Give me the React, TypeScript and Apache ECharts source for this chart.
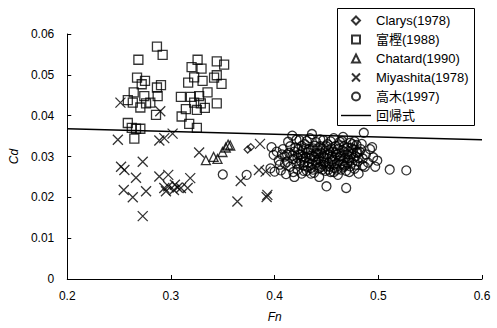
import React, { useEffect, useRef } from "react";
import * as echarts from "echarts";

const xTicks = [0.2, 0.3, 0.4, 0.5, 0.6];
const yTicks = [0, 0.01, 0.02, 0.03, 0.04, 0.05, 0.06];

const clarys: number[][] = [
  [0.377, 0.0323], [0.374, 0.0317],
];

const togashi: number[][] = [
  [0.2865, 0.0569], [0.292, 0.0549], [0.2686, 0.0537], [0.2673, 0.0493], [0.275, 0.0485],
  [0.2718, 0.0477], [0.2904, 0.0475], [0.2865, 0.0469], [0.2641, 0.0457], [0.2743, 0.0448],
  [0.2872, 0.0448], [0.2584, 0.0438], [0.2632, 0.0432], [0.276, 0.043], [0.2801, 0.0432],
  [0.2705, 0.042], [0.2856, 0.0402], [0.2584, 0.0382], [0.2622, 0.037], [0.2663, 0.0368],
  [0.2705, 0.0368], [0.2647, 0.0344],
  [0.3257, 0.0537], [0.3442, 0.0533], [0.3513, 0.0525], [0.3199, 0.0519], [0.3295, 0.0515],
  [0.3224, 0.0494], [0.3416, 0.0493], [0.3442, 0.0499], [0.3305, 0.0485], [0.3166, 0.0481],
  [0.3488, 0.0478], [0.3096, 0.0446], [0.3192, 0.0446], [0.3272, 0.0448], [0.3353, 0.0457],
  [0.3224, 0.0432], [0.3288, 0.043], [0.3442, 0.043], [0.3144, 0.0416], [0.325, 0.0414],
  [0.3327, 0.0419], [0.3103, 0.0398], [0.3176, 0.038], [0.325, 0.037],
];

const chatard: number[][] = [
  [0.3337, 0.0291], [0.3411, 0.0299], [0.3449, 0.0294], [0.3497, 0.0311],
  [0.3529, 0.0322], [0.3551, 0.0329], [0.3572, 0.0327],
];

const miyashita: number[][] = [
  [0.2488, 0.0341], [0.2513, 0.0432], [0.2519, 0.0275], [0.2551, 0.0267], [0.2728, 0.0287],
  [0.2663, 0.0248], [0.2545, 0.0218], [0.2632, 0.02], [0.276, 0.0215], [0.2728, 0.0154],
  [0.2888, 0.0339], [0.2936, 0.0345], [0.3016, 0.0356], [0.2897, 0.0411], [0.2888, 0.0251],
  [0.2974, 0.0255], [0.2936, 0.0223], [0.2974, 0.0227], [0.3038, 0.0231], [0.3064, 0.0224],
  [0.2952, 0.0215], [0.3029, 0.0218], [0.3096, 0.0223], [0.3186, 0.0247], [0.3161, 0.0223],
  [0.3272, 0.031], [0.3641, 0.019], [0.3673, 0.024], [0.3849, 0.0267], [0.3913, 0.0263],
  [0.393, 0.0206], [0.3923, 0.0201], [0.3859, 0.0331],
];

const takagi: number[][] = [
  [0.396, 0.0271], [0.397, 0.0323], [0.399, 0.0304], [0.4, 0.0263], [0.35, 0.0256], [0.373, 0.0255],
  [0.402, 0.0312], [0.404, 0.029], [0.405, 0.028], [0.406, 0.0266], [0.408, 0.0318], [0.41, 0.03],
  [0.411, 0.0257], [0.412, 0.0287], [0.413, 0.0336], [0.414, 0.0309], [0.415, 0.0275], [0.417, 0.0351],
  [0.418, 0.0294], [0.419, 0.025], [0.42, 0.0322], [0.421, 0.0283], [0.422, 0.0268], [0.423, 0.0305],
  [0.424, 0.034], [0.425, 0.029], [0.426, 0.0258], [0.427, 0.0315], [0.428, 0.0278], [0.429, 0.033],
  [0.43, 0.0298], [0.431, 0.0265], [0.432, 0.031], [0.433, 0.0285], [0.434, 0.0345], [0.435, 0.0272],
  [0.436, 0.0355], [0.436, 0.0302], [0.437, 0.032], [0.438, 0.026], [0.439, 0.0292], [0.44, 0.0335],
  [0.441, 0.0279], [0.442, 0.0307], [0.443, 0.025], [0.444, 0.0325], [0.445, 0.0288], [0.446, 0.0268],
  [0.447, 0.034], [0.448, 0.0298], [0.449, 0.0315], [0.45, 0.0227], [0.45, 0.0276], [0.451, 0.033],
  [0.452, 0.0285], [0.453, 0.0305], [0.454, 0.0262], [0.455, 0.032], [0.456, 0.0293], [0.457, 0.0345],
  [0.458, 0.0272], [0.459, 0.031], [0.46, 0.0283], [0.461, 0.0255], [0.462, 0.0327], [0.463, 0.03],
  [0.464, 0.0268], [0.465, 0.0338], [0.466, 0.029], [0.467, 0.0312], [0.468, 0.0278], [0.469, 0.0223],
  [0.47, 0.0322], [0.471, 0.0296], [0.472, 0.0262], [0.473, 0.0334], [0.474, 0.0306], [0.475, 0.0285],
  [0.476, 0.0318], [0.477, 0.027], [0.478, 0.03], [0.479, 0.0328], [0.48, 0.0288], [0.481, 0.0258],
  [0.482, 0.0312], [0.484, 0.0331], [0.485, 0.0295], [0.486, 0.0358], [0.487, 0.0275], [0.488, 0.0305],
  [0.49, 0.0285], [0.492, 0.0318], [0.494, 0.0323], [0.495, 0.0298], [0.497, 0.0275], [0.499, 0.029],
  [0.511, 0.0268], [0.527, 0.0266],
  [0.415, 0.0325], [0.418, 0.0262], [0.421, 0.0341], [0.425, 0.0305], [0.428, 0.0295], [0.432, 0.0275],
  [0.435, 0.0315], [0.438, 0.03], [0.44, 0.0285], [0.443, 0.0295], [0.445, 0.0308], [0.447, 0.028],
  [0.449, 0.0265], [0.452, 0.0315], [0.455, 0.03], [0.457, 0.028], [0.46, 0.0305], [0.462, 0.029],
  [0.465, 0.0315], [0.467, 0.0275], [0.47, 0.0305], [0.472, 0.029], [0.475, 0.033], [0.478, 0.028],
  [0.48, 0.031], [0.43, 0.032], [0.441, 0.0318], [0.453, 0.0275], [0.463, 0.028], [0.412, 0.0305],
  [0.419, 0.0312], [0.422, 0.0297], [0.424, 0.0282], [0.426, 0.0326], [0.427, 0.0301], [0.429, 0.0287],
  [0.431, 0.0338], [0.433, 0.0318], [0.434, 0.0296], [0.436, 0.0283], [0.437, 0.0268], [0.439, 0.0326],
  [0.44, 0.0308], [0.442, 0.0292], [0.443, 0.0272], [0.444, 0.0342], [0.446, 0.0318], [0.447, 0.0301],
  [0.448, 0.0285], [0.45, 0.0325], [0.451, 0.0306], [0.452, 0.0268], [0.454, 0.0337], [0.455, 0.0288],
  [0.456, 0.0312], [0.458, 0.0297], [0.459, 0.0326], [0.46, 0.0268], [0.461, 0.0318], [0.463, 0.0336],
  [0.464, 0.0302], [0.466, 0.0281], [0.467, 0.0325], [0.468, 0.0297], [0.47, 0.0285], [0.471, 0.0313],
  [0.473, 0.0276], [0.474, 0.0321], [0.476, 0.0296], [0.477, 0.0337], [0.479, 0.031], [0.481, 0.0296],
  [0.483, 0.0318], [0.485, 0.0278], [0.423, 0.0318], [0.417, 0.0302], [0.41, 0.0282], [0.407, 0.0305],
  [0.445, 0.0275], [0.457, 0.0262], [0.469, 0.0265], [0.435, 0.0258], [0.428, 0.0265], [0.466, 0.0348],
];

const regression: number[][] = [
  [0.2, 0.0368], [0.6, 0.0341],
];

const seriesNames = ["Clarys(1978)", "富樫(1988)", "Chatard(1990)", "Miyashita(1978)", "高木(1997)", "回帰式"];

const FONT = "'Liberation Sans', Arial, 'Noto Sans CJK JP', sans-serif";
const CROSS = "path://M0,0L10,10M10,0L0,10";
const DIAMOND = "path://M5,0L10,5L5,10L0,5Z";
const SQUARE = "path://M0,0L10,0L10,10L0,10Z";
const TRIANGLE = "path://M5,0L10,10L0,10Z";
const CIRCLE = "path://M10,5A5,5,0,1,1,0,5A5,5,0,1,1,10,5Z";
const BAR = "path://M0,0L30,0L30,1.4L0,1.4Z";

export default function App() {
  const ref = useRef<HTMLDivElement>(null);
  useEffect(() => {
    if (!ref.current) return;
    const chart = echarts.init(ref.current, undefined, { renderer: "svg" });
    const hollow = { color: "rgba(0,0,0,0)", borderColor: "#000", borderWidth: 1.3 };
    chart.setOption({
      animation: false,
      backgroundColor: "#fff",
      grid: { left: 66, right: 15, top: 34, bottom: 46, containLabel: false },
      graphic: [
        {
          type: "rect",
          left: 337,
          top: 8,
          z: 1,
          shape: { width: 137, height: 117 },
          style: { fill: "#fff", stroke: "#000", lineWidth: 1 },
        },
      ],
      legend: {
        orient: "vertical",
        left: 341,
        top: 14,
        padding: 0,
        itemWidth: 30,
        itemHeight: 8,
        itemGap: 6,
        symbolKeepAspect: true,
        z: 5,
        data: [
          { name: seriesNames[0], icon: DIAMOND },
          { name: seriesNames[1], icon: SQUARE },
          { name: seriesNames[2], icon: TRIANGLE },
          { name: seriesNames[3], icon: CROSS },
          { name: seriesNames[4], icon: CIRCLE },
          { name: seriesNames[5], icon: BAR, itemStyle: { color: "#000", borderWidth: 0 } },
        ],
        textStyle: { fontSize: 13, color: "#000", fontFamily: FONT },
      },
      xAxis: {
        type: "value",
        min: xTicks[0],
        max: xTicks[xTicks.length - 1],
        interval: 0.1,
        name: "Fn",
        nameLocation: "middle",
        nameGap: 32,
        nameTextStyle: { fontSize: 12, fontStyle: "italic", color: "#000", fontFamily: FONT },
        axisLine: { show: true, lineStyle: { color: "#000", width: 1 } },
        axisTick: { show: true, inside: true, length: 4, lineStyle: { color: "#000" } },
        axisLabel: {
          fontSize: 12,
          color: "#000",
          fontFamily: FONT,
          margin: 11,
          formatter: (v: number) => (Math.round(v * 10) / 10).toString(),
        },
        splitLine: { show: false },
      },
      yAxis: {
        type: "value",
        min: yTicks[0],
        max: yTicks[yTicks.length - 1],
        interval: 0.01,
        name: "Cd",
        nameLocation: "middle",
        nameGap: 45,
        nameTextStyle: { fontSize: 12, fontStyle: "italic", color: "#000", fontFamily: FONT },
        axisLine: { show: true, lineStyle: { color: "#000", width: 1 } },
        axisTick: { show: true, inside: true, length: 4, lineStyle: { color: "#000" } },
        axisLabel: {
          fontSize: 12,
          color: "#000",
          fontFamily: FONT,
          margin: 13,
          formatter: (v: number) => (v === 0 ? "0" : v.toFixed(2)),
        },
        splitLine: { show: false },
      },
      series: [
        { name: seriesNames[0], type: "scatter", data: clarys, symbol: "diamond", symbolSize: 7, itemStyle: hollow, z: 3 },
        { name: seriesNames[1], type: "scatter", data: togashi, symbol: "rect", symbolSize: 9, itemStyle: hollow, z: 3 },
        { name: seriesNames[2], type: "scatter", data: chatard, symbol: "triangle", symbolSize: 9, itemStyle: hollow, z: 3 },
        { name: seriesNames[3], type: "scatter", data: miyashita, symbol: CROSS, symbolSize: 10, itemStyle: hollow, z: 3 },
        { name: seriesNames[4], type: "scatter", data: takagi, symbol: "circle", symbolSize: 9, itemStyle: hollow, z: 3 },
        {
          name: seriesNames[5],
          type: "line",
          data: regression,
          showSymbol: false,
          symbol: "none",
          lineStyle: { color: "#000", width: 1.4 },
          itemStyle: { color: "#000" },
          z: 4,
        },
      ],
    });
    return () => chart.dispose();
  }, []);
  return (
    <div
      ref={ref}
      style={{ position: "fixed", left: 0, top: 0, width: 497, height: 328 }}
    />
  );
}
